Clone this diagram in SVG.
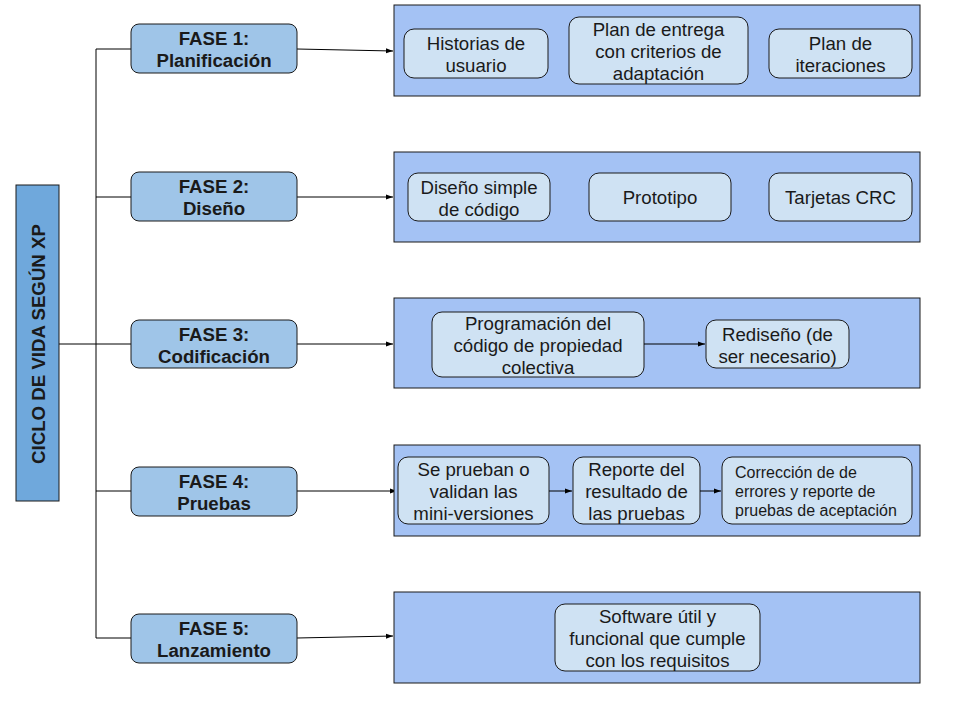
<svg xmlns="http://www.w3.org/2000/svg" width="960" height="720" viewBox="0 0 960 720">
<defs>
<marker id="ah" markerWidth="8" markerHeight="6" refX="7" refY="3" orient="auto" markerUnits="userSpaceOnUse">
<path d="M0,0.5 L7,3 L0,5.5 Z" fill="#000"/>
</marker>
<style>
.grp{fill:#a4c2f4;stroke:#1a1a1a;stroke-width:1}
.inn{fill:#cfe2f3;stroke:#1a1a1a;stroke-width:1}
.ph{fill:#9fc5e8;stroke:#1a1a1a;stroke-width:1}
.main{fill:#6fa8dc;stroke:#1a1a1a;stroke-width:1}
.t{font-family:"Liberation Sans",Arial,sans-serif;font-size:18.67px;fill:#1a1a1a;text-anchor:middle}
.tb{font-family:"Liberation Sans",Arial,sans-serif;font-size:18.67px;font-weight:bold;fill:#1a1a1a;text-anchor:middle}
.ts{font-family:"Liberation Sans",Arial,sans-serif;font-size:16px;fill:#1a1a1a}
.c{fill:none;stroke:#000;stroke-width:1}
</style>
</defs>
<rect width="960" height="720" fill="#fff"/>

<g id="connectors">
<path class="c" d="M59,344 H131"/>
<path class="c" d="M96,49 V638"/>
<path class="c" d="M96,49 H131"/>
<path class="c" d="M96,197 H131"/>
<path class="c" d="M96,491 H131"/>
<path class="c" d="M96,638 H131"/>
<path class="c" d="M297,49 L393,51" marker-end="url(#ah)"/>
<path class="c" d="M297,197 L393,197" marker-end="url(#ah)"/>
<path class="c" d="M297,344 L393,344" marker-end="url(#ah)"/>
<path class="c" d="M297,491 L397,491" marker-end="url(#ah)"/>
<path class="c" d="M297,638 L393,636" marker-end="url(#ah)"/>
</g>

<g id="main">
<rect class="main" x="16" y="185" width="43" height="316"/>
<text class="tb" transform="translate(44.5,344) rotate(-90)">CICLO DE VIDA SEGÚN XP</text>
</g>

<g id="fase1">
<rect class="ph" x="131" y="24" width="166" height="49" rx="8"/>
<text class="tb" x="214" y="45">FASE 1:</text>
<text class="tb" x="214" y="67">Planificación</text>
</g>
<g id="fase2">
<rect class="ph" x="131" y="172" width="166" height="49" rx="8"/>
<text class="tb" x="214" y="193">FASE 2:</text>
<text class="tb" x="214" y="215">Diseño</text>
</g>
<g id="fase3">
<rect class="ph" x="131" y="320" width="166" height="48" rx="8"/>
<text class="tb" x="214" y="340.5">FASE 3:</text>
<text class="tb" x="214" y="362.5">Codificación</text>
</g>
<g id="fase4">
<rect class="ph" x="131" y="467" width="166" height="49" rx="8"/>
<text class="tb" x="214" y="488">FASE 4:</text>
<text class="tb" x="214" y="510">Pruebas</text>
</g>
<g id="fase5">
<rect class="ph" x="131" y="614" width="166" height="49" rx="8"/>
<text class="tb" x="214" y="635">FASE 5:</text>
<text class="tb" x="214" y="657">Lanzamiento</text>
</g>

<g id="grupo1">
<rect class="grp" x="394" y="5" width="526" height="91"/>
<g id="historias">
<rect class="inn" x="404" y="29" width="144" height="49" rx="10"/>
<text class="t" x="476" y="50">Historias de</text>
<text class="t" x="476" y="72">usuario</text>
</g>
<g id="plan-entrega">
<rect class="inn" x="569" y="17" width="179" height="67" rx="10"/>
<text class="t" x="658.5" y="36">Plan de entrega</text>
<text class="t" x="658.5" y="58">con criterios de</text>
<text class="t" x="658.5" y="80">adaptación</text>
</g>
<g id="plan-iteraciones">
<rect class="inn" x="769" y="29" width="143" height="49" rx="10"/>
<text class="t" x="840.5" y="50">Plan de</text>
<text class="t" x="840.5" y="72">iteraciones</text>
</g>
</g>

<g id="grupo2">
<rect class="grp" x="394" y="152" width="526" height="90"/>
<g id="diseno-simple">
<rect class="inn" x="408" y="173" width="142" height="48" rx="10"/>
<text class="t" x="479" y="193.5">Diseño simple</text>
<text class="t" x="479" y="215.5">de código</text>
</g>
<g id="prototipo">
<rect class="inn" x="589" y="173" width="142" height="48" rx="10"/>
<text class="t" x="660" y="204">Prototipo</text>
</g>
<g id="tarjetas">
<rect class="inn" x="769" y="173" width="143" height="48" rx="10"/>
<text class="t" x="840.5" y="204">Tarjetas CRC</text>
</g>
</g>

<g id="grupo3">
<rect class="grp" x="394" y="298" width="526" height="90"/>
<g id="programacion">
<rect class="inn" x="432" y="312" width="212" height="65" rx="10"/>
<text class="t" x="538" y="330">Programación del</text>
<text class="t" x="538" y="352">código de propiedad</text>
<text class="t" x="538" y="374">colectiva</text>
</g>
<g id="rediseno">
<rect class="inn" x="706" y="320" width="143" height="48" rx="10"/>
<text class="t" x="777.5" y="340.5">Rediseño (de</text>
<text class="t" x="777.5" y="362.5">ser necesario)</text>
</g>
<path class="c" d="M644,344 H705" marker-end="url(#ah)"/>
</g>

<g id="grupo4">
<rect class="grp" x="394" y="445" width="526" height="91"/>
<g id="se-prueban">
<rect class="inn" x="398" y="457" width="151" height="67" rx="10"/>
<text class="t" x="473.5" y="476">Se prueban o</text>
<text class="t" x="473.5" y="498">validan las</text>
<text class="t" x="473.5" y="520">mini-versiones</text>
</g>
<g id="reporte">
<rect class="inn" x="573" y="457" width="127" height="67" rx="10"/>
<text class="t" x="636.5" y="476">Reporte del</text>
<text class="t" x="636.5" y="498">resultado de</text>
<text class="t" x="636.5" y="520">las pruebas</text>
</g>
<g id="correccion">
<rect class="inn" x="722" y="457" width="190" height="67" rx="10"/>
<text class="ts" x="735" y="478">Corrección de de</text>
<text class="ts" x="735" y="497">errores y reporte de</text>
<text class="ts" x="735" y="516">pruebas de aceptación</text>
</g>
<path class="c" d="M549,491 H572" marker-end="url(#ah)"/>
<path class="c" d="M700,491 H721" marker-end="url(#ah)"/>
</g>

<g id="grupo5">
<rect class="grp" x="394" y="592" width="526" height="91"/>
<g id="software">
<rect class="inn" x="555" y="604" width="205" height="67" rx="10"/>
<text class="t" x="657.5" y="623">Software útil y</text>
<text class="t" x="657.5" y="645">funcional que cumple</text>
<text class="t" x="657.5" y="667">con los requisitos</text>
</g>
</g>
</svg>
